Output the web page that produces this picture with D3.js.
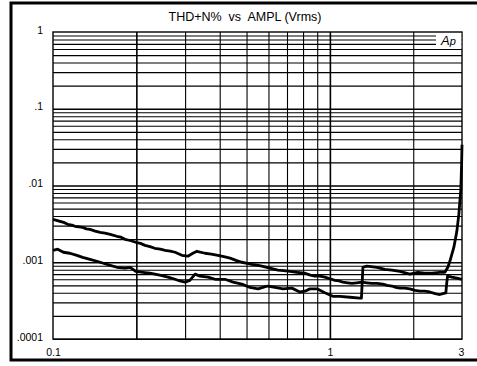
<!DOCTYPE html>
<html>
<head>
<meta charset="utf-8">
<script src="https://cdn.jsdelivr.net/npm/d3@7"></script>
<style>
  html, body { margin: 0; padding: 0; background: #fff; }
  svg { display: block; }
  text { font-family: "Liberation Sans", Arial, sans-serif; fill: #000; }
</style>
</head>
<body>
<svg id="chart" width="477" height="366"></svg>
<script>
// Axis ticks
const xTickValues = [0.1, 1, 3];
const xTickLabels = ["0.1", "1", "3"];
const yTickValues = [1, 0.1, 0.01, 0.001, 0.0001];
const yTickLabels = ["1", ".1", ".01", ".001", ".0001"];

// Grid lines (log decades and their multiples)
const xGridValues = [0.2, 0.3, 0.4, 0.5, 0.6, 0.7, 0.8, 0.9, 1, 2];
const yGridValues = [];
[0.0001, 0.001, 0.01, 0.1].forEach(d => { for (let k = 1; k <= 9; k++) yGridValues.push(d * k); });

// Channel A: THD+N (%) against amplitude (Vrms)
const chanAVrms = [0.100, 0.103, 0.106, 0.110, 0.113, 0.117, 0.120, 0.124, 0.128, 0.132, 0.136, 0.142,
  0.148, 0.154, 0.161, 0.170, 0.176, 0.182, 0.190, 0.199, 0.207, 0.215, 0.224, 0.233, 0.244, 0.254,
  0.265, 0.276, 0.292, 0.307, 0.320, 0.331, 0.354, 0.373, 0.394, 0.414, 0.436, 0.458, 0.481, 0.503,
  0.523, 0.545, 0.568, 0.607, 0.649, 0.680, 0.717, 0.760, 0.813, 0.850, 0.883, 0.920, 0.959, 1.000,
  1.043, 1.080, 1.114, 1.160, 1.201, 1.250, 1.305, 1.360, 1.418, 1.480, 1.554, 1.610, 1.674, 1.730,
  1.789, 1.860, 1.945, 2.030, 2.113, 2.200, 2.296, 2.400, 2.495, 2.560, 2.623, 2.640, 2.660, 2.757,
  2.874, 3.000];
const chanAPct = [0.00362, 0.00352, 0.00341, 0.00328, 0.00312, 0.00305, 0.00294, 0.00290, 0.00285, 0.00272, 0.00268, 0.00255,
  0.00245, 0.00240, 0.00231, 0.00218, 0.00212, 0.00199, 0.00192, 0.00182, 0.00176, 0.00166, 0.00160, 0.00152, 0.00148, 0.00143,
  0.00140, 0.00135, 0.00123, 0.00120, 0.00131, 0.00139, 0.00131, 0.00128, 0.00123, 0.00118, 0.00113, 0.00106, 0.00100, 0.00097,
  0.00094, 0.00092, 0.00089, 0.00084, 0.00079, 0.00078, 0.00076, 0.00074, 0.00072, 0.00068, 0.00066, 0.00066, 0.00064, 0.00061,
  0.00058, 0.00057, 0.00055, 0.00054, 0.00053, 0.00054, 0.00055, 0.00054, 0.00053, 0.00053, 0.00052, 0.00050, 0.00049, 0.00047,
  0.00046, 0.00046, 0.00045, 0.00043, 0.00042, 0.00042, 0.00041, 0.00039, 0.00038, 0.00039, 0.00040, 0.00052, 0.00066, 0.00064,
  0.00062, 0.00060];

// Channel B: THD+N (%) against amplitude (Vrms)
const chanBVrms = [0.100, 0.104, 0.109, 0.115, 0.122, 0.128, 0.136, 0.144, 0.152, 0.161, 0.170, 0.182,
  0.190, 0.199, 0.211, 0.224, 0.243, 0.260, 0.276, 0.287, 0.300, 0.312, 0.326, 0.339, 0.363, 0.385,
  0.418, 0.447, 0.481, 0.514, 0.550, 0.573, 0.597, 0.633, 0.677, 0.729, 0.779, 0.813, 0.847, 0.898,
  0.959, 1.025, 1.087, 1.181, 1.283, 1.300, 1.316, 1.360, 1.478, 1.579, 1.674, 1.789, 1.945, 2.078,
  2.203, 2.335, 2.495, 2.602, 2.667, 2.712, 2.757, 2.804, 2.874, 2.922, 2.971, 2.990, 3.000];
const chanBPct = [0.00143, 0.00148, 0.00135, 0.00131, 0.00123, 0.00116, 0.00109, 0.00103, 0.00097, 0.00091, 0.00086, 0.00084,
  0.00086, 0.00076, 0.00074, 0.00072, 0.00068, 0.00064, 0.00060, 0.00057, 0.00055, 0.00058, 0.00070, 0.00066, 0.00064, 0.00060,
  0.00060, 0.00055, 0.00052, 0.00047, 0.00045, 0.00047, 0.00049, 0.00047, 0.00045, 0.00046, 0.00041, 0.00042, 0.00045, 0.00045,
  0.00040, 0.00036, 0.00036, 0.00035, 0.00034, 0.00034, 0.00086, 0.00089, 0.00086, 0.00081, 0.00079, 0.00076, 0.00070, 0.00074,
  0.00072, 0.00072, 0.00074, 0.00074, 0.00086, 0.00103, 0.00127, 0.00157, 0.00253, 0.0042, 0.0089, 0.0187, 0.034];

const W = 477, H = 366;
const plot = { left: 53, top: 32, right: 462, bottom: 339 };

const svg = d3.select("#chart");

const x = d3.scaleLog().domain([0.1, 3]).range([plot.left, plot.right]);
const y = d3.scaleLog().domain([0.0001, 1]).range([plot.bottom, plot.top]);

// Outer frame (left, top, bottom edges)
svg.append("path")
  .attr("d", `M${W},3 H11 V360 H${W}`)
  .attr("fill", "none").attr("stroke", "#000").attr("stroke-width", 3);

// Title
svg.append("text")
  .attr("x", 245).attr("y", 21)
  .attr("text-anchor", "middle")
  .style("font-size", "12.5px")
  .style("white-space", "pre")
  .attr("xml:space", "preserve")
  .text("THD+N%  vs  AMPL (Vrms)");

// Grid
const gridG = svg.append("g").attr("class", "grid");
gridG.append("g")
  .attr("transform", `translate(0,${plot.bottom})`)
  .call(d3.axisBottom(x).tickValues(xGridValues).tickSize(-(plot.bottom - plot.top)).tickFormat(""))
  .call(g => g.select(".domain").remove())
  .call(g => g.selectAll(".tick line").attr("stroke", "#000")
    .attr("stroke-width", d => (d === 1 || d === 0.2) ? 1.6 : 1.1));
gridG.append("g")
  .attr("transform", `translate(${plot.left},0)`)
  .call(d3.axisLeft(y).tickValues(yGridValues).tickSize(-(plot.right - plot.left)).tickFormat(""))
  .call(g => g.select(".domain").remove())
  .call(g => g.selectAll(".tick line").attr("stroke", "#000")
    .attr("stroke-width", d => [0.001, 0.01, 0.1].some(v => Math.abs(d - v) < v * 1e-6) ? 1.6 : 1.1));

// Plot border
svg.append("rect")
  .attr("x", plot.left).attr("y", plot.top)
  .attr("width", plot.right - plot.left).attr("height", plot.bottom - plot.top)
  .attr("fill", "none").attr("stroke", "#000").attr("stroke-width", 1.4);

// Logo box in the top-right corner
const logoTop = y(1), logoBottom = y(0.6);
svg.append("rect")
  .attr("x", 436).attr("y", logoTop + 1)
  .attr("width", plot.right - 436 - 0.7).attr("height", logoBottom - logoTop - 1.5)
  .attr("fill", "#fff");
const logo = svg.append("text")
  .attr("x", 441).attr("y", logoBottom - 4)
  .style("font-style", "italic");
logo.append("tspan").style("font-size", "13px").text("A");
logo.append("tspan").style("font-size", "11px").text("p");

// Tick labels
const yAxis = svg.append("g")
  .attr("transform", `translate(${plot.left - 7},0)`)
  .call(d3.axisLeft(y).tickValues(yTickValues).tickSize(0)
    .tickFormat((d, i) => yTickLabels[i]));
yAxis.select(".domain").remove();
yAxis.selectAll("text")
  .attr("dy", "0.1em")
  .style("font-size", "10.5px")
  .style("font-family", "'Liberation Sans', Arial, sans-serif");

const xAxis = svg.append("g")
  .attr("transform", `translate(0,${plot.bottom + 7})`)
  .call(d3.axisBottom(x).tickValues(xTickValues).tickSize(0)
    .tickFormat((d, i) => xTickLabels[i]));
xAxis.select(".domain").remove();
xAxis.selectAll("text")
  .style("font-size", "10.5px")
  .style("font-family", "'Liberation Sans', Arial, sans-serif");
xAxis.selectAll(".tick").filter(d => d === 3).select("text").attr("dx", "-1");

// Curves
const line = d3.line().x(d => x(d[0])).y(d => y(d[1]));
const seriesList = [
  chanAVrms.map((v, i) => [v, chanAPct[i]]),
  chanBVrms.map((v, i) => [v, chanBPct[i]])
];
svg.append("g")
  .selectAll("path")
  .data(seriesList)
  .join("path")
  .attr("d", line)
  .attr("fill", "none")
  .attr("stroke", "#000")
  .attr("stroke-width", 2.8)
  .attr("stroke-linejoin", "round");
</script>
</body>
</html>
